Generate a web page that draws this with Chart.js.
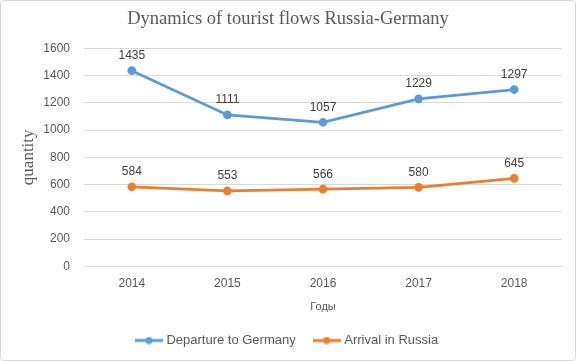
<!DOCTYPE html>
<html>
<head>
<meta charset="utf-8">
<script src="https://cdn.jsdelivr.net/npm/chart.js@4"></script>
<style>
  html, body { margin: 0; padding: 0; background: #fff; }
  #wrap { position: relative; width: 576px; height: 361px; }
</style>
</head>
<body>
<div id="wrap"><canvas id="chart" width="576" height="361"></canvas></div>
<script>
  // данные графика
  var years = ['2014', '2015', '2016', '2017', '2018'];
  var departureToGermany = [1435, 1111, 1057, 1229, 1297];
  var arrivalInRussia = [584, 553, 566, 580, 645];
  var seriesNames = ['Departure to Germany', 'Arrival in Russia'];
  var seriesColors = ['#5b9bd5', '#ed7d31'];

  var textColor = '#595959';
  var gridColor = '#d9d9d9';
  var sans = '"Liberation Sans", Arial, sans-serif';
  var serif = '"Liberation Serif", "Times New Roman", serif';

  // маркер легенды: линия с точкой посередине
  function legendMarker(color) {
    var c = document.createElement('canvas');
    c.width = 28; c.height = 8;
    var g = c.getContext('2d');
    g.strokeStyle = color;
    g.lineWidth = 3;
    g.beginPath(); g.moveTo(0, 4); g.lineTo(28, 4); g.stroke();
    g.fillStyle = color;
    g.beginPath(); g.arc(14, 4, 3.5, 0, Math.PI * 2); g.fill();
    return c;
  }

  var frame = {
    id: 'frame',
    afterDraw: function (chart) {
      var ctx = chart.ctx;
      ctx.save();
      ctx.strokeStyle = '#d9d9d9';
      ctx.lineWidth = 1;
      ctx.beginPath();
      ctx.roundRect(0.5, 0.5, chart.width - 1, chart.height - 1, 3);
      ctx.stroke();
      ctx.restore();
    }
  };

  var valueLabels = {
    id: 'valueLabels',
    afterDatasetsDraw: function (chart) {
      var ctx = chart.ctx;
      ctx.save();
      ctx.font = '12px ' + sans;
      ctx.fillStyle = '#404040';
      ctx.textAlign = 'center';
      ctx.textBaseline = 'middle';
      chart.data.datasets.forEach(function (ds, i) {
        chart.getDatasetMeta(i).data.forEach(function (pt, j) {
          ctx.fillText(String(ds.data[j]), pt.x, pt.y - 15);
        });
      });
      ctx.restore();
    }
  };

  function makeDataset(label, data, color) {
    return {
      label: label,
      data: data,
      borderColor: color,
      backgroundColor: color,
      borderWidth: 2.75,
      pointRadius: 3,
      pointHoverRadius: 3,
      pointBackgroundColor: color,
      pointBorderColor: color,
      tension: 0
    };
  }

  new Chart(document.getElementById('chart'), {
    type: 'line',
    data: {
      labels: years,
      datasets: [
        makeDataset(seriesNames[0], departureToGermany, seriesColors[0]),
        makeDataset(seriesNames[1], arrivalInRussia, seriesColors[1])
      ]
    },
    options: {
      responsive: false,
      animation: false,
      layout: { padding: { left: 0, right: 0, top: 0, bottom: 4 } },
      scales: {
        x: {
          offset: true,
          grid: { display: false, drawTicks: false },
          border: { color: gridColor },
          ticks: { color: textColor, font: { family: sans, size: 12 }, padding: 10 },
          title: { display: true, text: 'Годы', color: textColor, font: { family: sans, size: 11 }, padding: { top: 0, bottom: 0 } }
        },
        y: {
          min: 0,
          max: 1600,
          ticks: {
            stepSize: 200,
            color: textColor,
            font: { family: sans, size: 12 },
            padding: 14,
            callback: function (v) { return String(v); }
          },
          grid: { color: gridColor, drawTicks: false },
          border: { display: false },
          title: { display: true, text: 'quantity', color: textColor, font: { family: serif, size: 17 }, padding: { top: 18, bottom: 0 } },
          afterFit: function (scale) { scale.width = 84; }
        },
        // пустая правая ось — только отступ справа, чтобы заголовок и легенда стояли по центру холста
        yRight: {
          position: 'right',
          display: true,
          grid: { display: false, drawTicks: false },
          border: { display: false },
          ticks: { display: false },
          afterFit: function (scale) { scale.width = 14; }
        }
      },
      plugins: {
        title: {
          display: true,
          text: 'Dynamics of tourist flows Russia-Germany',
          color: textColor,
          font: { family: serif, size: 18.5, weight: 'normal' },
          padding: { top: 8, bottom: 18 }
        },
        legend: {
          position: 'bottom',
          labels: {
            color: textColor,
            font: { family: sans, size: 13 },
            usePointStyle: true,
            pointStyleWidth: 22,
            padding: 20,
            generateLabels: function (chart) {
              return chart.data.datasets.map(function (ds, i) {
                return {
                  text: ds.label,
                  fillStyle: ds.borderColor,
                  strokeStyle: ds.borderColor,
                  pointStyle: legendMarker(ds.borderColor),
                  fontColor: textColor,
                  datasetIndex: i,
                  hidden: false,
                  lineWidth: 0
                };
              });
            }
          }
        },
        tooltip: { enabled: false }
      }
    },
    plugins: [valueLabels, frame]
  });
</script>
</body>
</html>
